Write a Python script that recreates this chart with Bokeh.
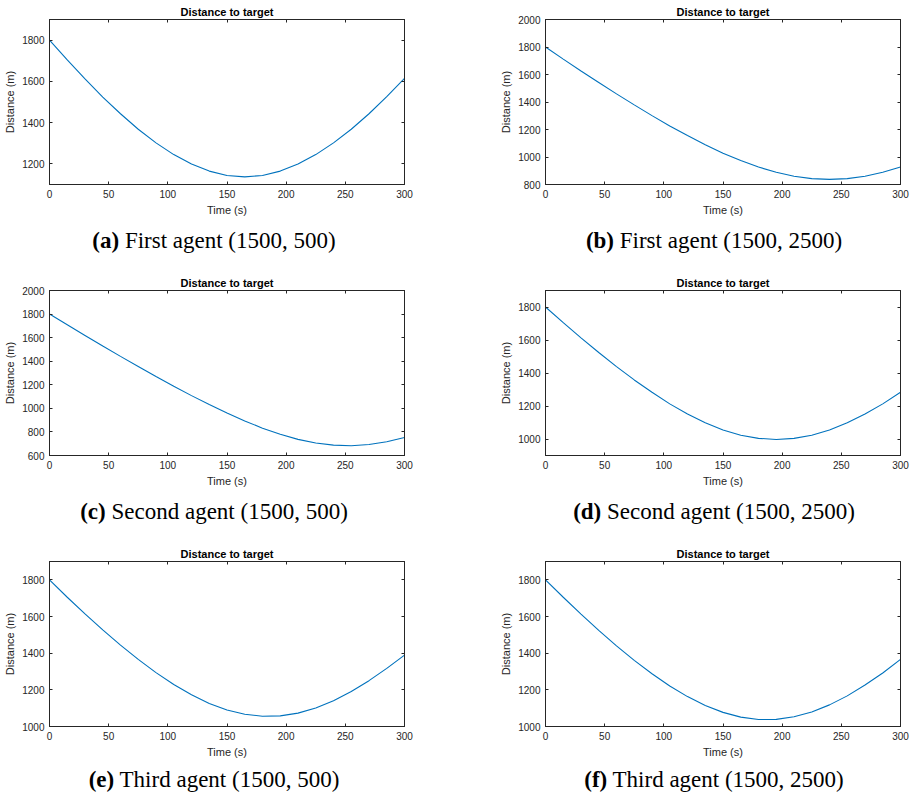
from bokeh.plotting import figure
from bokeh.models import Range1d, SingleIntervalTicker, LinearAxis, Div, CustomJSTickFormatter
from bokeh.layouts import column, row
from bokeh.embed import file_html
from bokeh.resources import INLINE

# ---- data (distance in m, every 15 s) ----
time_s = [0, 15, 30, 45, 60, 75, 90, 105, 120, 135, 150, 165, 180, 195, 210, 225, 240, 255, 270, 285, 300]
dist_a = [1800, 1704, 1612, 1524, 1443, 1368, 1302, 1245, 1199, 1165, 1144, 1137, 1144, 1165, 1199, 1245, 1302, 1368, 1443, 1526, 1615]
dist_b = [1800, 1712, 1626, 1542, 1459, 1379, 1301, 1226, 1156, 1089, 1028, 974, 927, 889, 860, 843, 837, 843, 860, 889, 927]
dist_c = [1800, 1709, 1619, 1529, 1441, 1355, 1270, 1188, 1108, 1032, 960, 893, 832, 780, 737, 706, 688, 683, 693, 717, 753]
dist_d = [1800, 1705, 1613, 1524, 1439, 1358, 1283, 1213, 1152, 1098, 1055, 1023, 1004, 997, 1004, 1023, 1055, 1098, 1152, 1213, 1283]
dist_e = [1800, 1705, 1614, 1527, 1444, 1366, 1294, 1229, 1173, 1126, 1090, 1067, 1056, 1058, 1073, 1101, 1141, 1191, 1250, 1317, 1389]
dist_f = [1800, 1705, 1613, 1524, 1440, 1361, 1288, 1221, 1163, 1115, 1077, 1051, 1038, 1039, 1053, 1079, 1118, 1167, 1226, 1292, 1366]

y_limits = {
    "a": (1100, 1900), "b": (800, 2000), "c": (600, 2000),
    "d": (900, 1900), "e": (1000, 1900), "f": (1000, 1900),
}
captions = {
    "a": ("(a)", "First agent (1500, 500)"),
    "b": ("(b)", "First agent (1500, 2500)"),
    "c": ("(c)", "Second agent (1500, 500)"),
    "d": ("(d)", "Second agent (1500, 2500)"),
    "e": ("(e)", "Third agent (1500, 500)"),
    "f": ("(f)", "Third agent (1500, 2500)"),
}
series = {"a": dist_a, "b": dist_b, "c": dist_c, "d": dist_d, "e": dist_e, "f": dist_f}

TITLE = "Distance to target"
XLABEL = "Time (s)"
YLABEL = "Distance (m)"

AX = "#262626"
SANS = "Liberation Sans"
SERIF = "Liberation Serif"

LEFT_B = 49
COL1_RIGHT_B = 92
COL2_RIGHT_B = 12
FRAME_W = 355
FRAME_H = 165
COL1_W = LEFT_B + FRAME_W + COL1_RIGHT_B
COL2_W = LEFT_B + FRAME_W + COL2_RIGHT_B


def style_axis(ax, label=None, show_labels=True):
    ax.major_tick_in = 3
    ax.major_tick_out = 0
    ax.minor_tick_in = 0
    ax.minor_tick_out = 0
    ax.axis_line_color = AX
    ax.major_tick_line_color = AX
    ax.major_label_text_color = AX
    ax.major_label_text_font = SANS
    ax.major_label_text_font_size = "10px"
    if show_labels:
        ax.major_label_standoff = 5
    else:
        ax.formatter = CustomJSTickFormatter(code="return ''")
        ax.major_label_standoff = 0
    if label:
        ax.axis_label = label
        ax.axis_label_text_font = SANS
        ax.axis_label_text_font_size = "11px"
        ax.axis_label_text_font_style = "normal"
        ax.axis_label_text_color = AX
        ax.axis_label_standoff = 3


def make_panel(key, left_col):
    ymin, ymax = y_limits[key]
    p = figure(
        frame_width=FRAME_W, frame_height=FRAME_H,
        x_range=Range1d(0, 300), y_range=Range1d(ymin, ymax),
        output_backend="svg", toolbar_location=None,
        min_border_left=LEFT_B,
        min_border_right=(COL1_RIGHT_B if left_col else COL2_RIGHT_B),
        min_border_top=19, min_border_bottom=36,
        title=TITLE,
    )
    p.title.align = "center"
    p.title.text_font = SANS
    p.title.text_font_size = "11px"
    p.title.text_font_style = "bold"
    p.title.text_color = "#000000"
    p.title.standoff = 3
    p.xgrid.visible = False
    p.ygrid.visible = False
    p.outline_line_color = AX
    p.outline_line_alpha = 1
    p.background_fill_color = "white"
    p.border_fill_color = "white"

    p.xaxis.ticker = SingleIntervalTicker(interval=50)
    p.yaxis.ticker = SingleIntervalTicker(interval=200)
    style_axis(p.xaxis[0], XLABEL)
    style_axis(p.yaxis[0], YLABEL)

    top = LinearAxis(ticker=SingleIntervalTicker(interval=50))
    style_axis(top, None, show_labels=False)
    p.add_layout(top, "above")
    right = LinearAxis(ticker=SingleIntervalTicker(interval=200))
    style_axis(right, None, show_labels=False)
    p.add_layout(right, "right")

    p.line(time_s, series[key], line_color="#0072BD", line_width=1.1)
    return p


def make_caption(key, left_col, height, pad):
    tag, rest = captions[key]
    box_w = 418 if left_col else 406
    fig_w = COL1_W if left_col else COL2_W
    html = (
        f'<div style="width:{box_w}px;text-align:center;font-family:\'{SERIF}\';'
        f'font-size:23px;line-height:26px;padding-top:{pad}px;color:#000;white-space:nowrap">'
        f'<b>{tag}</b> {rest}</div>'
    )
    return Div(text=html, width=fig_w, height=height)


rows = []
keys = [("a", "b"), ("c", "d"), ("e", "f")]
for i, (kl, kr) in enumerate(keys):
    last = i == len(keys) - 1
    h = 30 if last else 41
    pad = 0 if last else 3
    rows.append(row(make_panel(kl, True), make_panel(kr, False)))
    rows.append(row(make_caption(kl, True, h, pad), make_caption(kr, False, h, pad)))

layout = column(*rows)

open("out.html", "w").write(file_html(layout, INLINE))
